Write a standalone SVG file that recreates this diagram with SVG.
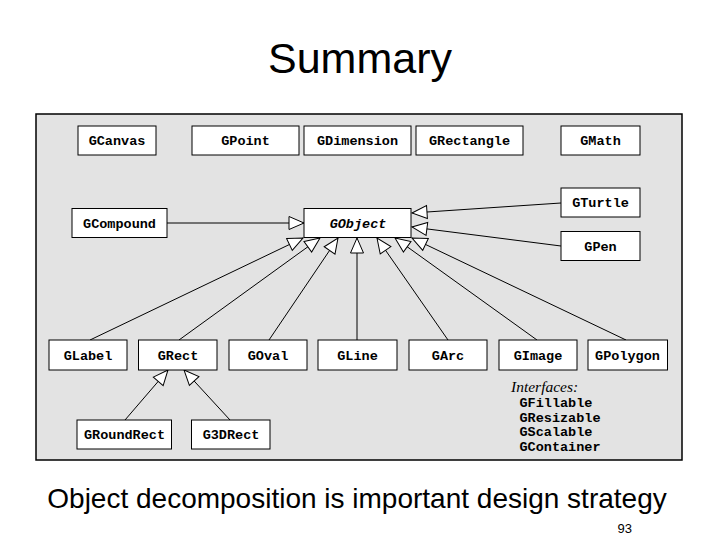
<svg xmlns="http://www.w3.org/2000/svg" width="720" height="540" viewBox="0 0 720 540">
<style>
.box{fill:#ffffff;stroke:#000000;stroke-width:1}
.lbl{font-family:"Liberation Mono",monospace;font-weight:bold;font-size:13.5px;fill:#000;text-anchor:middle}
.it{font-style:italic}
.con{stroke:#000;stroke-width:1;fill:none;marker-end:url(#tri)}
.iface{font-family:"Liberation Mono",monospace;font-weight:bold;font-size:13.5px;fill:#000}
</style>
<defs>
<marker id="tri" markerUnits="userSpaceOnUse" markerWidth="20" markerHeight="20" refX="15" refY="6.5" orient="auto" overflow="visible">
<path d="M0,0 L15,6.5 L0,13 Z" fill="#fff" stroke="#000" stroke-width="1"/>
</marker>
</defs>
<rect width="720" height="540" fill="#ffffff"/>
<text x="360" y="73" font-family="Liberation Sans, Arial, sans-serif" font-size="43" text-anchor="middle" fill="#000">Summary</text>
<rect x="36" y="114" width="646" height="346" fill="#e3e3e3" stroke="#000" stroke-width="1.5"/>

<g id="connectors">
<line class="con" x1="167" y1="223" x2="304" y2="223"/>
<line class="con" x1="90" y1="340" x2="303" y2="238"/>
<line class="con" x1="179" y1="340" x2="320" y2="238"/>
<line class="con" x1="269" y1="340" x2="338" y2="238"/>
<line class="con" x1="357" y1="340" x2="357" y2="238"/>
<line class="con" x1="448" y1="340" x2="377" y2="238"/>
<line class="con" x1="537" y1="340" x2="395" y2="238"/>
<line class="con" x1="626" y1="340" x2="412" y2="238"/>
<line class="con" x1="561" y1="203" x2="412" y2="213"/>
<line class="con" x1="561" y1="246" x2="412" y2="227"/>
<line class="con" x1="125" y1="420" x2="168" y2="370"/>
<line class="con" x1="230" y1="420" x2="184" y2="370"/>
</g>

<g id="GCanvas"><rect class="box" x="78" y="126" width="78" height="29"/><text class="lbl" x="117" y="145">GCanvas</text></g>
<g id="GPoint"><rect class="box" x="192" y="126" width="107" height="29"/><text class="lbl" x="245.5" y="145">GPoint</text></g>
<g id="GDimension"><rect class="box" x="304" y="126" width="107" height="29"/><text class="lbl" x="357.5" y="145">GDimension</text></g>
<g id="GRectangle"><rect class="box" x="416" y="126" width="107" height="29"/><text class="lbl" x="469.5" y="145">GRectangle</text></g>
<g id="GMath"><rect class="box" x="561" y="126" width="79" height="29"/><text class="lbl" x="600.5" y="145">GMath</text></g>
<g id="GTurtle"><rect class="box" x="561" y="188" width="79" height="29"/><text class="lbl" x="600.5" y="207">GTurtle</text></g>
<g id="GPen"><rect class="box" x="561" y="231.5" width="79" height="29"/><text class="lbl" x="600.5" y="250.5">GPen</text></g>
<g id="GCompound"><rect class="box" x="72" y="208.5" width="95" height="29"/><text class="lbl" x="119.5" y="227.5">GCompound</text></g>
<g id="GObject"><rect class="box" x="304" y="208.5" width="107" height="29"/><text class="lbl it" x="358" y="227.5">GObject</text></g>

<g id="GLabel"><rect class="box" x="49" y="340" width="78" height="30"/><text class="lbl" x="88" y="359.5">GLabel</text></g>
<g id="GRect"><rect class="box" x="138.5" y="340" width="78.5" height="30"/><text class="lbl" x="178" y="359.5">GRect</text></g>
<g id="GOval"><rect class="box" x="229" y="340" width="78" height="30"/><text class="lbl" x="268" y="359.5">GOval</text></g>
<g id="GLine"><rect class="box" x="318" y="340" width="79" height="30"/><text class="lbl" x="357.5" y="359.5">GLine</text></g>
<g id="GArc"><rect class="box" x="409" y="340" width="78" height="30"/><text class="lbl" x="448" y="359.5">GArc</text></g>
<g id="GImage"><rect class="box" x="499" y="340" width="78" height="30"/><text class="lbl" x="538" y="359.5">GImage</text></g>
<g id="GPolygon"><rect class="box" x="588" y="340" width="79.5" height="30"/><text class="lbl" x="627.5" y="359.5">GPolygon</text></g>

<g id="GRoundRect"><rect class="box" x="77" y="420" width="94.5" height="29"/><text class="lbl" x="124.5" y="439">GRoundRect</text></g>
<g id="G3DRect"><rect class="box" x="191.5" y="420" width="78.5" height="29"/><text class="lbl" x="231" y="439">G3DRect</text></g>

<g id="interfaces">
<text x="511" y="391.5" font-family="Liberation Serif, serif" font-style="italic" font-size="15.5" fill="#000">Interfaces:</text>
<text class="iface" x="519.5" y="407">GFillable</text>
<text class="iface" x="519.5" y="421.5">GResizable</text>
<text class="iface" x="519.5" y="435.5">GScalable</text>
<text class="iface" x="519.5" y="450.5">GContainer</text>
</g>

<text x="357" y="508" font-family="Liberation Sans, Arial, sans-serif" font-size="28" text-anchor="middle" fill="#000">Object decomposition is important design strategy</text>
<text x="632" y="533" font-family="Liberation Sans, Arial, sans-serif" font-size="13" text-anchor="end" fill="#000">93</text>
</svg>
